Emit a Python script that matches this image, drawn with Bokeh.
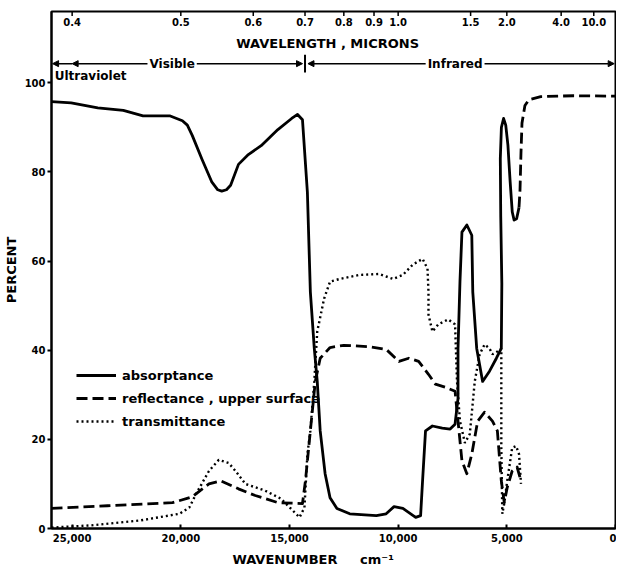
from bokeh.plotting import figure
from bokeh.models import (Range1d, FixedTicker, NumeralTickFormatter, Label, Arrow,
                          NormalHead, Legend, LegendItem, ColumnDataSource)
from bokeh.embed import file_html
from bokeh.resources import INLINE

# ---- data (wavenumber cm^-1, percent) ----
absorp_wn = [25950, 25045, 23822, 22645, 21740, 20516, 19928, 19700, 19475, 19022, 18569,
             18300, 18117, 17900, 17708, 17347, 16893, 16304, 15534, 14900, 14629, 14402,
             14176, 14040, 13859, 13723, 13587, 13361, 13134, 12817, 12228, 11005, 10553,
             10190, 9782, 9194, 8967, 8877, 8741, 8424, 7971, 7609, 7382, 7246, 7246, 7156,
             7065, 6839, 6612, 6567, 6386, 6114, 5797, 5480, 5254, 5230, 5280, 5300,
             5250, 5150, 5050, 4950, 4850, 4750, 4665, 4550, 4440]
absorp_pct = [95.8, 95.5, 94.4, 93.8, 92.6, 92.6, 91.5, 90.5, 88.2, 82.8, 77.7,
              76.0, 75.7, 76.0, 77.0, 81.7, 83.9, 85.9, 89.5, 92.0, 92.9, 91.7,
              75.4, 53.1, 40.4, 33.0, 21.9, 12.3, 6.9, 4.5, 3.3, 2.9, 3.3,
              4.9, 4.5, 2.5, 2.9, 10.7, 21.9, 23.0, 22.5, 22.3, 23.4, 29.2, 40.4, 55.4,
              66.5, 68.1, 65.8, 53.1, 40.4, 33.0, 35.3, 38.2, 40.4, 55.0, 70.0, 83.0,
              90.0, 92.0, 90.5, 86.0, 78.0, 71.0, 69.2, 69.5, 72.0]
absorp_ext_wn = [4440, 4393, 4348, 4302, 4167, 3985, 3442, 1947, 0]
absorp_ext_pct = [72.0, 76.0, 84.4, 91.0, 94.9, 96.2, 96.9, 97.1, 97.0]

reflect_wn = [25950, 23370, 20380, 19475, 18705, 18161, 17347, 16576, 15534, 14402,
              14266, 14040, 13813, 13587, 13134, 12500, 11322, 10553, 9964, 9511,
              9058, 8605, 8288, 7835, 7382, 7246, 7065, 6839, 6612, 6341, 6024,
              5661, 5435, 5254, 5118, 4982, 4755, 4529, 4348]
reflect_pct = [4.5, 5.1, 5.8, 7.1, 10.0, 10.7, 8.9, 7.4, 5.8, 5.6,
               10.7, 21.9, 33.0, 38.2, 40.6, 41.1, 40.8, 40.2, 37.5, 38.2,
               37.5, 34.6, 32.4, 31.7, 30.8, 24.1, 15.2, 12.3, 16.7, 24.1, 26.1,
               24.1, 21.9, 10.7, 5.8, 9.2, 12.9, 13.8, 10.7]

trans_wn = [25950, 24140, 21875, 20063, 19610, 19294, 18705, 18252, 17799, 17482,
            17029, 16123, 15399, 14946, 14538, 14312, 14176, 14040, 13859, 13723,
            13406, 13134, 12681, 11775, 10870, 10236, 9782, 9330, 8877, 8650, 8605,
            8605, 8424, 8152, 7699, 7382, 7292, 7156, 6929, 6703, 6476, 6250, 6024,
            5797, 5661, 5435, 5254, 5254, 5208, 5118, 4982, 4755, 4574, 4438, 4348]
trans_pct = [0.2, 0.7, 1.8, 3.3, 4.7, 7.8, 12.9, 15.4, 14.7, 12.9,
             10.0, 8.5, 6.7, 4.5, 2.5, 4.7, 16.7, 21.9, 33.0, 44.2,
             51.6, 55.4, 56.0, 56.9, 57.1, 56.0, 56.9, 59.2, 60.5, 58.3, 53.1,
             48.0, 44.2, 45.8, 46.9, 45.8, 33.0, 24.1, 19.2, 21.2, 33.0, 39.1, 41.3,
             40.4, 39.1, 39.7, 40.4, 18.1, 3.3, 5.6, 10.7, 18.1, 18.5, 16.7, 10.0]

wavenumber_ticks = [25000, 20000, 15000, 10000, 5000, 0]
percent_ticks = [0, 20, 40, 60, 80, 100]
wavelength_ticks = [0.4, 0.5, 0.6, 0.7, 0.8, 0.9, 1.0, 1.5, 2.0, 4.0, 10.0]
wavelength_labels = ["0.4", "0.5", "0.6", "0.7", "0.8", "0.9", "1.0", "1.5", "2.0", "4.0", "10.0"]

FONT = "DejaVu Sans"
NB = "\u00a0"

p = figure(width=616, height=573, x_range=Range1d(25950, 0), y_range=Range1d(0, 116),
           output_backend="svg", toolbar_location=None,
           min_border_left=42, min_border_right=1, min_border_top=11, min_border_bottom=45)
p.background_fill_color = "white"
p.border_fill_color = "white"
p.outline_line_color = "black"
p.outline_line_width = 2
p.grid.visible = False

# axes
xa = p.xaxis[0]
xa.ticker = FixedTicker(ticks=wavenumber_ticks)
xa.formatter = NumeralTickFormatter(format="0,0")
xa.axis_label = "WAVENUMBER" + NB * 5 + "cm\u207b\u00b9" + NB * 9
xa.major_tick_in = 4
xa.major_tick_out = 0
xa.minor_tick_line_color = None
xa.axis_line_width = 2
xa.major_tick_line_width = 2
xa.major_label_standoff = 5
xa.axis_label_standoff = 7
xa.major_label_text_font = FONT
xa.major_label_text_font_style = "bold"
xa.major_label_text_font_size = "10px"
xa.major_label_text_color = "black"
xa.axis_label_text_font = FONT
xa.axis_label_text_font_style = "bold"
xa.axis_label_text_font_size = "13px"
xa.axis_label_text_color = "black"

ya = p.yaxis[0]
ya.ticker = FixedTicker(ticks=percent_ticks)
ya.axis_label = "PERCENT"
ya.major_tick_in = 0
ya.major_tick_out = 4
ya.minor_tick_line_color = None
ya.axis_line_width = 2
ya.major_tick_line_width = 2
ya.major_label_standoff = 2
ya.axis_label_standoff = 3
ya.major_label_text_font = FONT
ya.major_label_text_font_style = "bold"
ya.major_label_text_font_size = "10px"
ya.major_label_text_color = "black"
ya.axis_label_text_font = FONT
ya.axis_label_text_font_style = "bold"
ya.axis_label_text_font_size = "13px"
ya.axis_label_text_color = "black"

# curves
r_abs = p.line(absorp_wn, absorp_pct, line_color="black", line_width=2.8, line_join="round")
p.line(absorp_ext_wn, absorp_ext_pct, line_color="black", line_width=2.8, line_dash="11 5")
r_ref = p.line(reflect_wn, reflect_pct, line_color="black", line_width=2.8, line_dash="11 5",
               line_join="round")
r_tra = p.line(trans_wn, trans_pct, line_color="black", line_width=2.4, line_dash="2 3")

legend = Legend(items=[LegendItem(label="absorptance", renderers=[r_abs]),
                       LegendItem(label="reflectance , upper surface", renderers=[r_ref]),
                       LegendItem(label="transmittance", renderers=[r_tra])],
                location=(25, 97), orientation="vertical",
                background_fill_alpha=0, border_line_color=None,
                padding=0, margin=0, spacing=3,
                glyph_width=40, glyph_height=20, label_height=20, label_standoff=6,
                label_text_font=FONT, label_text_font_style="bold",
                label_text_font_size="13px", label_text_color="black")
p.add_layout(legend, "center")

# top wavelength scale (inside the frame)
wl_x = [1e4 / w for w in wavelength_ticks]
src = ColumnDataSource(dict(x=wl_x, y=[113.6] * len(wl_x), t=wavelength_labels))
p.text(x="x", y="y", text="t", source=src, text_align="center", text_baseline="middle",
       text_font_size="10px", text_font_style="bold", text_font={"value": FONT},
       text_color="black")
p.segment(x0=wl_x, y0=[116] * len(wl_x), x1=wl_x, y1=[115.0] * len(wl_x),
          line_color="black", line_width=1.5)

p.add_layout(Label(x=1e4 / 0.755, y=108.9, text="WAVELENGTH , MICRONS",
                   text_align="center", text_baseline="middle", text_font=FONT,
                   text_font_style="bold", text_font_size="13px", text_color="black"))

# spectral region bar
yb = 104.3
head = dict(size=6, fill_color="black", line_color="black")
p.add_layout(Arrow(x_start=25000, x_end=25900, y_start=yb, y_end=yb, line_width=1.5,
                   end=NormalHead(**head)))
p.add_layout(Arrow(x_start=20000, x_end=25000, y_start=yb, y_end=yb, line_width=1.5,
                   end=NormalHead(**head)))
p.add_layout(Arrow(x_start=20000, x_end=14400, y_start=yb, y_end=yb, line_width=1.5,
                   end=NormalHead(**head)))
p.add_layout(Arrow(x_start=8000, x_end=14150, y_start=yb, y_end=yb, line_width=1.5,
                   end=NormalHead(**head)))
p.add_layout(Arrow(x_start=8000, x_end=60, y_start=yb, y_end=yb, line_width=1.5,
                   end=NormalHead(**head)))
p.segment(x0=[1e4 / 0.7], y0=[102.3], x1=[1e4 / 0.7], y1=[106.3], line_color="black", line_width=2)

for txt, xx in [("Visible", 20400), ("Infrared", 7380)]:
    p.add_layout(Label(x=xx, y=yb, text=txt, text_align="center", text_baseline="middle",
                       text_font=FONT, text_font_style="bold", text_font_size="12px",
                       text_color="black", background_fill_color="white", padding=2))
p.add_layout(Label(x=25800, y=101.6, text="Ultraviolet", text_align="left",
                   text_baseline="middle", text_font=FONT, text_font_style="bold",
                   text_font_size="12px", text_color="black"))

open("out.html", "w").write(file_html(p, INLINE))
